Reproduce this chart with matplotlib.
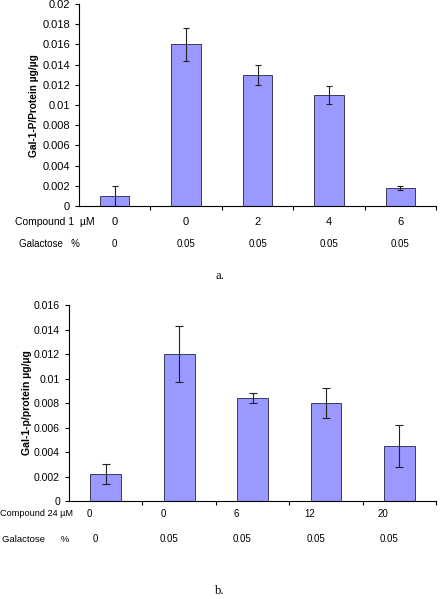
import numpy as np
import matplotlib
matplotlib.use("Agg")
import matplotlib.pyplot as plt

plt.rcParams['font.family'] = ['Liberation Sans', 'DejaVu Sans']

# ── data ──────────────────────────────────────────────────────────────────────
compound1_um = ["0", "0", "2", "4", "6"]
galactose_a = ["0", "0.05", "0.05", "0.05", "0.05"]
gal1p_a = [0.001, 0.016, 0.013, 0.011, 0.0018]
err_a = [0.001, 0.0016, 0.001, 0.0009, 0.0002]

compound24_um = ["0", "0", "6", "12", "20"]
galactose_b = ["0", "0.05", "0.05", "0.05", "0.05"]
gal1p_b = [0.0022, 0.012, 0.0084, 0.0080, 0.0045]
err_b = [0.00085, 0.0023, 0.0004, 0.0012, 0.0017]

BAR_COLOR = '#9999ff'
EDGE = '#3a3a5a'


def style_axis(ax, n, ymax, ystep, fs):
    ax.set_xlim(-0.5, n - 0.5)
    ax.set_ylim(0, ymax)
    ticks = np.arange(0, ymax + ystep / 2, ystep)
    ax.set_yticks(ticks)
    ax.set_yticklabels([f"{v:g}" for v in ticks], fontsize=fs)
    ax.set_xticks(np.arange(n) + 0.5)
    ax.set_xticklabels([])
    ax.tick_params(axis='x', direction='out', length=3, width=0.8)
    ax.tick_params(axis='y', direction='out', length=3, width=0.8)
    for s in ['top', 'right']:
        ax.spines[s].set_visible(False)
    for s in ['left', 'bottom']:
        ax.spines[s].set_linewidth(0.8)


fig = plt.figure(figsize=(4.4, 5.99), dpi=100)

# ── panel a ───────────────────────────────────────────────────────────────────
ax1 = fig.add_axes([0.1795, 0.656, 0.8115, 0.3372])
x = np.arange(len(gal1p_a))
ax1.bar(x, gal1p_a, width=0.41, color=BAR_COLOR, edgecolor=EDGE, linewidth=0.7,
        yerr=err_a, error_kw=dict(ecolor='#222222', elinewidth=0.8, capsize=2.5,
                                  capthick=0.8))
style_axis(ax1, len(x), 0.02, 0.002, 8)
ax1.set_ylabel("Gal-1-P/Protein µg/µg", fontsize=7.3, fontweight='bold', labelpad=2)

for i, (c, g) in enumerate(zip(compound1_um, galactose_a)):
    ax1.text(i, -0.079, c, transform=ax1.get_xaxis_transform(), ha='center',
             va='center', fontsize=8)
    ax1.text(i, -0.188, g, transform=ax1.get_xaxis_transform(), ha='center',
             va='center', fontsize=7)
ax1.text(-0.179, -0.079, "Compound 1  µM", transform=ax1.transAxes, ha='left',
         va='center', fontsize=7.5)
ax1.text(-0.168, -0.188, "Galactose   %", transform=ax1.transAxes, ha='left',
         va='center', fontsize=7)
fig.text(0.5, 0.539, "a.", ha='center', va='center', fontsize=9,
         family='Liberation Serif')

# ── panel b ───────────────────────────────────────────────────────────────────
ax2 = fig.add_axes([0.157, 0.1636, 0.834, 0.3272])
x = np.arange(len(gal1p_b))
ax2.bar(x, gal1p_b, width=0.42, color=BAR_COLOR, edgecolor=EDGE, linewidth=0.7,
        yerr=err_b, error_kw=dict(ecolor='#222222', elinewidth=0.8, capsize=2.8,
                                  capthick=0.8))
style_axis(ax2, len(x), 0.016, 0.002, 7.6)
ax2.set_ylabel("Gal-1-p/protein µg/µg", fontsize=7.6, fontweight='bold', labelpad=1.5)

for i, (c, g) in enumerate(zip(compound24_um, galactose_b)):
    ax2.text(i - 0.22, -0.066, c, transform=ax2.get_xaxis_transform(), ha='center',
             va='center', fontsize=7)
    ax2.text(i - 0.14, -0.194, g, transform=ax2.get_xaxis_transform(), ha='center',
             va='center', fontsize=7)
ax2.text(-0.188, -0.066, "Compound 24 µM", transform=ax2.transAxes, ha='left',
         va='center', fontsize=6.6)
ax2.text(-0.183, -0.194, "Galactose      %", transform=ax2.transAxes, ha='left',
         va='center', fontsize=6.8)
fig.text(0.5, 0.013, "b.", ha='center', va='center', fontsize=9,
         family='Liberation Serif')

plt.savefig("out.png", dpi=100)
